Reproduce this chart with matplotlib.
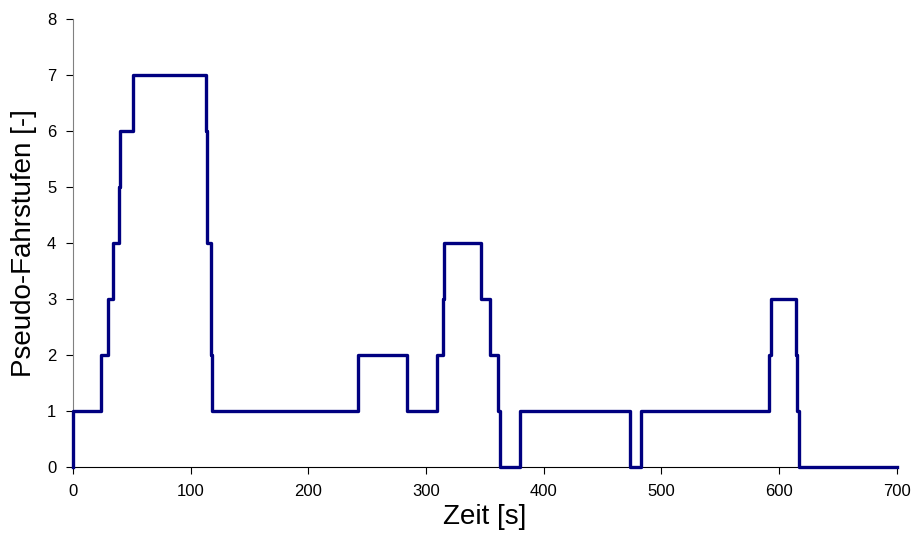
import matplotlib
matplotlib.use("Agg")
import matplotlib.pyplot as plt

# Zeitpunkte der Stufenwechsel [s] und zugehörige Pseudo-Fahrstufe
zeit = [0, 0, 24, 30, 34, 39, 40, 51, 113, 113.5, 114, 117, 117.5, 118,
        242, 284, 309, 314, 315, 347, 354, 361.5, 363, 380,
        473, 483, 591, 593, 614, 615.5, 617, 700]
stufe = [0, 1, 2, 3, 4, 5, 6, 7, 6, 5, 4, 3, 2, 1,
         2, 1, 2, 3, 4, 3, 2, 1, 0, 1,
         0, 1, 2, 3, 2, 1, 0, 0]

plt.rcParams['font.family'] = ['Liberation Sans Narrow', 'Liberation Sans', 'DejaVu Sans']

fig = plt.figure(figsize=(9.17, 5.52), dpi=100)
ax = fig.add_axes([0.0796, 0.154, 0.8984, 0.8116])

ax.step(zeit, stufe, where="post", color="#000080", linewidth=2.4,
        clip_on=False, zorder=3)

ax.set_xlim(0, 700)
ax.set_ylim(0, 8)
ax.set_xticks(range(0, 701, 100))
ax.set_yticks(range(0, 9))
ax.tick_params(direction="out", length=5, labelsize=12, pad=7)
ax.spines["top"].set_visible(False)
ax.spines["right"].set_visible(False)
ax.spines["left"].set_color("#808080")
ax.set_xlabel("Zeit [s]", fontsize=20, labelpad=4)
ax.set_ylabel("Pseudo-Fahrstufen [-]", fontsize=20, labelpad=7)

fig.savefig("out.png", dpi=100)
